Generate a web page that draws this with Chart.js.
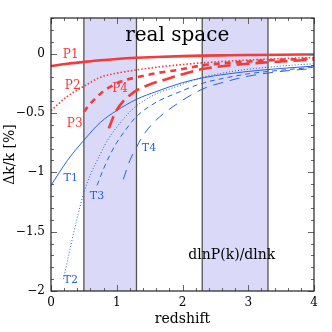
<!DOCTYPE html>
<html>
<head>
<meta charset="utf-8">
<script src="https://cdn.jsdelivr.net/npm/chart.js@4.4.1/dist/chart.umd.min.js"></script>
<style>
  html, body { margin: 0; padding: 0; background: #fff; }
  #wrap { width: 332px; height: 332px; }
</style>
</head>
<body>
<div id="wrap"><canvas id="chart"></canvas></div>
<script>
// --- data ---
const zFull = [0, 0.25, 0.5, 0.75, 1.0, 1.3, 1.6, 2.0, 2.3, 2.7, 3.0, 3.5, 4.0];
const p1Dk = [-0.105, -0.085, -0.07, -0.056, -0.045, -0.035, -0.028, -0.021, -0.017, -0.014, -0.012, -0.009, -0.007];
const p2Dk = [-0.48, -0.36, -0.275, -0.2, -0.165, -0.138, -0.115, -0.092, -0.078, -0.063, -0.054, -0.042, -0.033];
const t1Dk = [-1.11, -0.9, -0.73, -0.58, -0.48, -0.385, -0.32, -0.245, -0.205, -0.17, -0.15, -0.125, -0.105];

const p3Z = [0.5, 0.6, 0.7, 0.8, 0.9, 1.0, 1.15, 1.3, 1.6, 1.9, 2.3, 2.7, 3.0, 3.5, 4.0];
const p3Dk = [-0.49, -0.42, -0.365, -0.315, -0.28, -0.25, -0.22, -0.2, -0.165, -0.14, -0.1, -0.078, -0.066, -0.052, -0.042];

const p4Z = [0.88, 0.95, 1.0, 1.1, 1.2, 1.3, 1.5, 1.7, 1.9, 2.3, 2.7, 3.0, 3.5, 4.0];
const p4Dk = [-0.63, -0.53, -0.475, -0.4, -0.35, -0.31, -0.26, -0.225, -0.19, -0.13, -0.1, -0.085, -0.066, -0.052];

const t2Z = [0.19, 0.3, 0.4, 0.5, 0.6, 0.72, 0.86, 1.0, 1.15, 1.3, 1.6, 1.9, 2.3, 2.7, 3.0, 3.5, 4.0];
const t2Dk = [-1.9, -1.62, -1.38, -1.17, -1.02, -0.88, -0.73, -0.62, -0.52, -0.44, -0.34, -0.28, -0.2, -0.155, -0.132, -0.105, -0.085];

const t3Z = [0.7, 0.8, 0.9, 1.0, 1.125, 1.3, 1.6, 1.9, 2.3, 2.7, 3.0, 3.5, 4.0];
const t3Dk = [-1.11, -0.97, -0.85, -0.75, -0.65, -0.53, -0.41, -0.335, -0.25, -0.2, -0.17, -0.14, -0.115];

const t4Z = [1.1, 1.2, 1.3, 1.4, 1.6, 1.9, 2.3, 2.7, 3.0, 3.5, 4.0];
const t4Dk = [-1.06, -0.9, -0.79, -0.69, -0.56, -0.43, -0.3, -0.23, -0.19, -0.15, -0.125];

// shaded redshift ranges
const bandStart = [0.5, 2.3];
const bandEnd = [1.3, 3.3];

const xTicks = [0, 1, 2, 3, 4];
const yTicks = [-2, -1.5, -1, -0.5, 0];

const RED = '#f43a3a';
const BLUE = '#2a62d6';
const SERIF = "'DejaVu Serif', serif";

function pts(zs, vs) {
  return zs.map((z, i) => ({ x: z, y: vs[i] }));
}

function line(data, color, width, dash) {
  return {
    data: data,
    showLine: true,
    borderColor: color,
    borderWidth: width,
    borderDash: dash,
    pointRadius: 0,
    fill: false,
    cubicInterpolationMode: 'monotone'
  };
}

// text labels placed in data coordinates
const notes = [
  { text: 'P1', x: 0.30, y: -0.012, color: RED, size: 12 },
  { text: 'P2', x: 0.33, y: -0.275, color: RED, size: 12 },
  { text: 'P3', x: 0.36, y: -0.59, color: RED, size: 12 },
  { text: 'P4', x: 1.05, y: -0.30, color: RED, size: 12 },
  { text: 'T1', x: 0.30, y: -1.05, color: BLUE, size: 11 },
  { text: 'T2', x: 0.30, y: -1.905, color: BLUE, size: 11 },
  { text: 'T3', x: 0.70, y: -1.20, color: BLUE, size: 11 },
  { text: 'T4', x: 1.49, y: -0.80, color: BLUE, size: 11 },
  { text: 'real space', x: 1.92, y: 0.15, color: '#000', size: 20 },
  { text: 'dlnP(k)/dlnk', x: 2.75, y: -1.70, color: '#000', size: 14 }
];

const bandPlugin = {
  id: 'bands',
  beforeDatasetsDraw(chart) {
    const { ctx, chartArea: a, scales: { x } } = chart;
    ctx.save();
    bandStart.forEach((b, i) => {
      const x0 = x.getPixelForValue(b);
      const x1 = x.getPixelForValue(bandEnd[i]);
      ctx.fillStyle = '#dadaf8';
      ctx.fillRect(x0, a.top, x1 - x0, a.bottom - a.top);
      ctx.strokeStyle = '#555';
      ctx.lineWidth = 1.3;
      ctx.beginPath();
      ctx.moveTo(x0, a.top); ctx.lineTo(x0, a.bottom);
      ctx.moveTo(x1, a.top); ctx.lineTo(x1, a.bottom);
      ctx.stroke();
    });
    ctx.restore();
  }
};

const frameAndNotes = {
  id: 'frameAndNotes',
  afterDatasetsDraw(chart) {
    const { ctx, chartArea: a, scales: { x, y } } = chart;
    ctx.save();

    // inward tick marks on all four sides
    ctx.strokeStyle = '#666';
    ctx.lineWidth = 1;
    ctx.beginPath();
    for (let i = 0; i <= 20; i++) {
      const v = i * 0.2;
      const px = Math.round(x.getPixelForValue(v)) + 0.5;
      const len = (i % 5 === 0) ? 6 : 3;
      ctx.moveTo(px, a.bottom); ctx.lineTo(px, a.bottom - len);
      ctx.moveTo(px, a.top); ctx.lineTo(px, a.top + len);
    }
    for (let i = -20; i <= 3; i++) {
      const v = i * 0.1;
      const py = Math.round(y.getPixelForValue(v)) + 0.5;
      const len = (i % 5 === 0) ? 6 : 3;
      ctx.moveTo(a.left, py); ctx.lineTo(a.left + len, py);
      ctx.moveTo(a.right, py); ctx.lineTo(a.right - len, py);
    }
    ctx.stroke();

    // frame
    ctx.strokeStyle = '#222';
    ctx.lineWidth = 1.2;
    ctx.strokeRect(a.left, a.top, a.right - a.left, a.bottom - a.top);

    // labels
    ctx.textAlign = 'center';
    ctx.textBaseline = 'middle';
    notes.forEach(n => {
      ctx.fillStyle = n.color;
      ctx.font = n.size + 'px ' + SERIF;
      ctx.fillText(n.text, x.getPixelForValue(n.x), y.getPixelForValue(n.y));
    });
    ctx.restore();
  }
};

new Chart(document.getElementById('chart'), {
  type: 'scatter',
  data: {
    datasets: [
      line(pts(zFull, p1Dk), RED, 2.6, []),
      line(pts(zFull, p2Dk), RED, 1.6, [1.5, 2]),
      line(pts(p3Z, p3Dk), RED, 2.6, [6, 5]),
      line(pts(p4Z, p4Dk), RED, 2.6, [13, 6]),
      line(pts(zFull, t1Dk), BLUE, 1, []),
      line(pts(t2Z, t2Dk), BLUE, 1, [1, 2]),
      line(pts(t3Z, t3Dk), BLUE, 1, [5, 4]),
      line(pts(t4Z, t4Dk), BLUE, 1, [10, 7])
    ]
  },
  options: {
    responsive: true,
    maintainAspectRatio: false,
    animation: false,
    devicePixelRatio: 1,
    layout: { padding: { top: 18, right: 18, left: 0, bottom: 0 } },
    plugins: { legend: { display: false }, tooltip: { enabled: false } },
    scales: {
      x: {
        type: 'linear',
        min: 0,
        max: 4,
        grid: { display: false, drawTicks: false },
        border: { display: false },
        afterBuildTicks: s => { s.ticks = xTicks.map(v => ({ value: v })); },
        afterFit: s => { s.height = 41; },
        ticks: {
          padding: 5,
          color: '#000',
          font: { family: SERIF, size: 12 },
          callback: v => String(v)
        },
        title: {
          display: true,
          text: 'redshift',
          color: '#000',
          font: { family: SERIF, size: 14 },
          padding: { top: 0, bottom: 4 }
        }
      },
      y: {
        type: 'linear',
        min: -2,
        max: 0.3,
        grid: { display: false, drawTicks: false },
        border: { display: false },
        afterBuildTicks: s => { s.ticks = yTicks.map(v => ({ value: v })); },
        afterFit: s => { s.width = 51; },
        ticks: {
          padding: 6,
          color: '#000',
          font: { family: SERIF, size: 12 },
          callback: v => (v < 0 ? '\u2212' + Math.abs(v) : String(v))
        },
        title: {
          display: true,
          text: '\u0394k/k [%]',
          color: '#000',
          font: { family: SERIF, size: 14 },
          padding: { top: 2, bottom: 0 }
        }
      }
    }
  },
  plugins: [bandPlugin, frameAndNotes]
});
</script>
</body>
</html>
